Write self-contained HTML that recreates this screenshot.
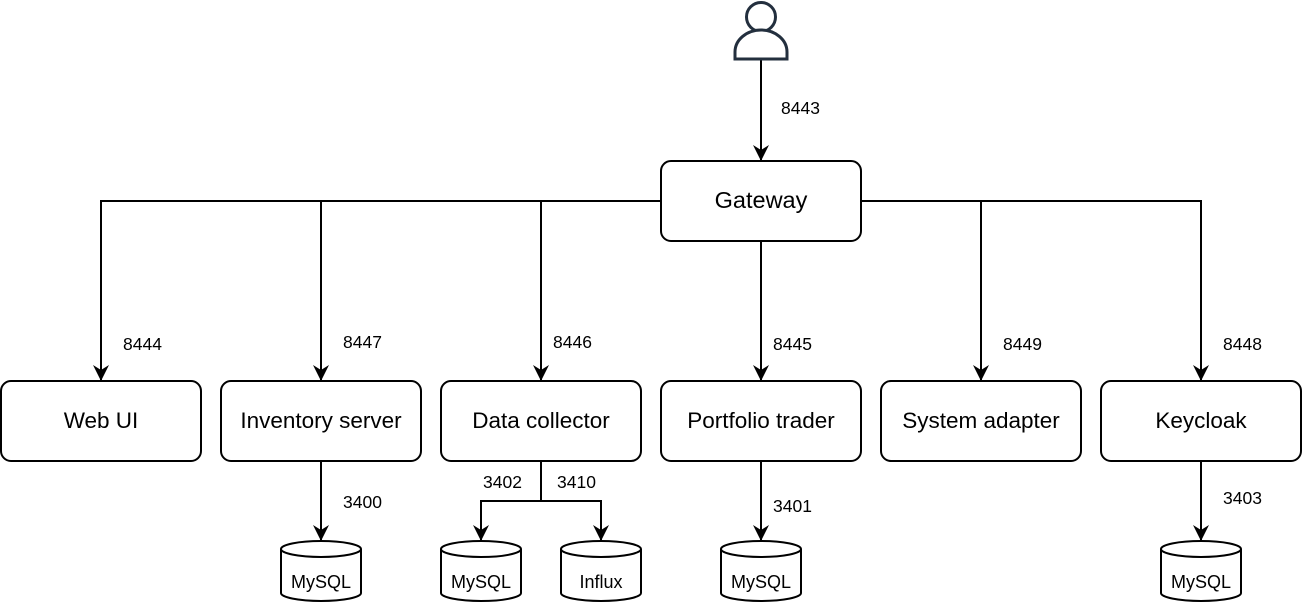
<!DOCTYPE html>
<html><head><meta charset="utf-8"><style>
html,body{margin:0;padding:0;background:#fff;}
svg{display:block;}
text{font-family:"Liberation Sans",sans-serif;fill:#000;}
</style></head><body>
<svg width="1302" height="602" viewBox="0 0 1302 602" xmlns="http://www.w3.org/2000/svg">
<defs>
<marker id="a" markerWidth="16" markerHeight="16" refX="15" refY="8" orient="auto" markerUnits="userSpaceOnUse" viewBox="0 0 16 16">
<path d="M16,8 L0,0 L5,8 L0,16 Z" fill="#000"/>
</marker>
</defs>
<g stroke="#000" stroke-width="2" fill="none">
<path d="M761,60 L761,160" marker-end="url(#a)"/>
<path d="M661,201 L101,201 L101,380" marker-end="url(#a)"/>
<path d="M321,201 L321,380" marker-end="url(#a)"/>
<path d="M541,201 L541,380" marker-end="url(#a)"/>
<path d="M761,241 L761,380" marker-end="url(#a)"/>
<path d="M861,201 L1201,201 L1201,380" marker-end="url(#a)"/>
<path d="M981,201 L981,380" marker-end="url(#a)"/>
<path d="M321,461 L321,540" marker-end="url(#a)"/>
<path d="M541,461 L541,501 L481,501 L481,540" marker-end="url(#a)"/>
<path d="M541,501 L601,501 L601,540" marker-end="url(#a)"/>
<path d="M761,461 L761,540" marker-end="url(#a)"/>
<path d="M1201,461 L1201,540" marker-end="url(#a)"/>
</g>
<g stroke="#000" stroke-width="2" fill="#fff">
<rect x="661" y="161" width="200" height="80" rx="10"/>
<rect x="1" y="381" width="200" height="80" rx="10"/>
<rect x="221" y="381" width="200" height="80" rx="10"/>
<rect x="441" y="381" width="200" height="80" rx="10"/>
<rect x="661" y="381" width="200" height="80" rx="10"/>
<rect x="881" y="381" width="200" height="80" rx="10"/>
<rect x="1101" y="381" width="200" height="80" rx="10"/>
</g>
<g stroke="#000" stroke-width="2" fill="#fff">
<g transform="translate(281,541)"><path d="M0,8 A40,8 0 0 1 80,8 L80,52 A40,8 0 0 1 0,52 Z"/><path d="M0,8 A40,8 0 0 0 80,8" fill="none"/></g>
<g transform="translate(441,541)"><path d="M0,8 A40,8 0 0 1 80,8 L80,52 A40,8 0 0 1 0,52 Z"/><path d="M0,8 A40,8 0 0 0 80,8" fill="none"/></g>
<g transform="translate(561,541)"><path d="M0,8 A40,8 0 0 1 80,8 L80,52 A40,8 0 0 1 0,52 Z"/><path d="M0,8 A40,8 0 0 0 80,8" fill="none"/></g>
<g transform="translate(721,541)"><path d="M0,8 A40,8 0 0 1 80,8 L80,52 A40,8 0 0 1 0,52 Z"/><path d="M0,8 A40,8 0 0 0 80,8" fill="none"/></g>
<g transform="translate(1161,541)"><path d="M0,8 A40,8 0 0 1 80,8 L80,52 A40,8 0 0 1 0,52 Z"/><path d="M0,8 A40,8 0 0 0 80,8" fill="none"/></g>
</g>
<g stroke="#232F3E" stroke-width="3" fill="#fff">
<circle cx="761" cy="17" r="14.5"/>
<path d="M735,59 L735,52 A26,22 0 0 1 787,52 L787,59 Z"/>
</g>
<g font-size="22.5" text-anchor="middle">
<text x="761" y="208" font-size="23.5">Gateway</text>
<text x="101" y="428">Web UI</text>
<text x="321" y="428">Inventory server</text>
<text x="541" y="428">Data collector</text>
<text x="761" y="428">Portfolio trader</text>
<text x="981" y="428">System adapter</text>
<text x="1201" y="428">Keycloak</text>
</g>
<g font-size="18" text-anchor="middle">
<text x="321" y="588">MySQL</text>
<text x="481" y="588">MySQL</text>
<text x="601" y="588">Influx</text>
<text x="761" y="588">MySQL</text>
<text x="1201" y="588">MySQL</text>
</g>
<g font-size="17.5">
<text x="781" y="114">8443</text>
<text x="123" y="350">8444</text>
<text x="343" y="348">8447</text>
<text x="553" y="348">8446</text>
<text x="773" y="350">8445</text>
<text x="1003" y="350">8449</text>
<text x="1223" y="350">8448</text>
<text x="343" y="508">3400</text>
<text x="483" y="488">3402</text>
<text x="557" y="488">3410</text>
<text x="773" y="512">3401</text>
<text x="1223" y="504">3403</text>
</g>
</svg>
</body></html>
